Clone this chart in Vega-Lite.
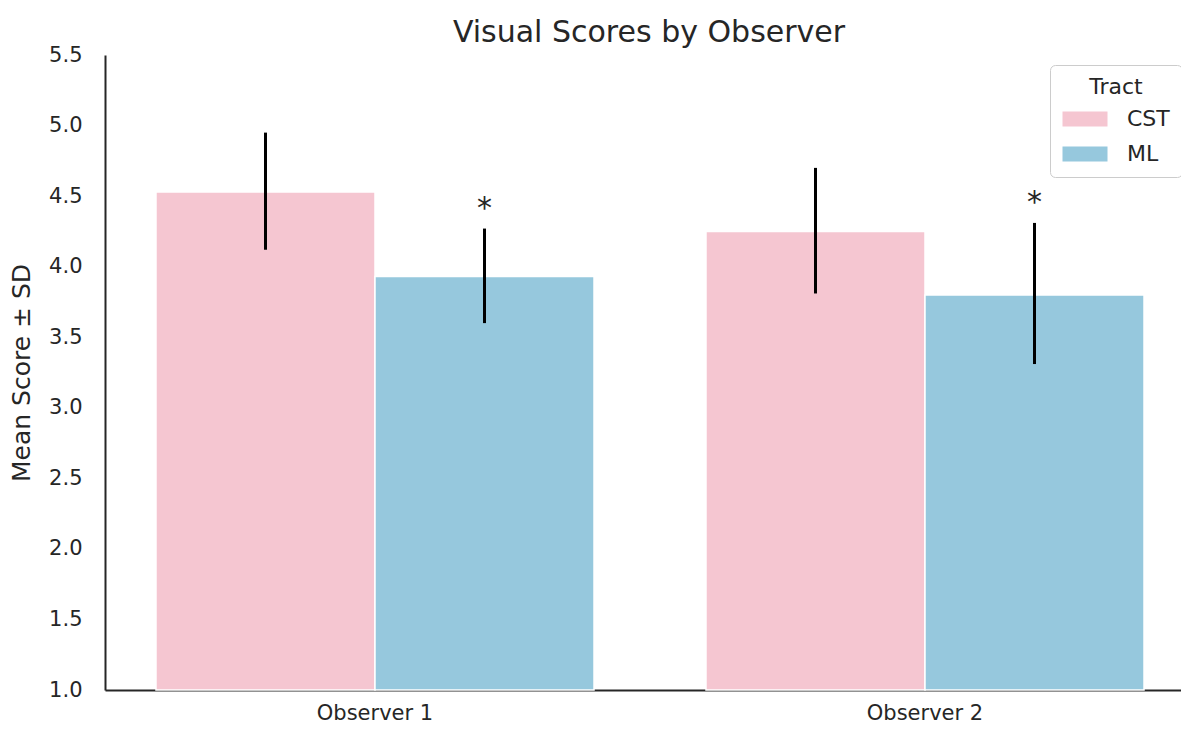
{
  "$schema": "https://vega.github.io/schema/vega-lite/v6.json",
  "width": 1076,
  "height": 635,
  "autosize": {"type": "none"},
  "padding": {"left": 105, "top": 55, "right": 0, "bottom": 40},
  "background": "white",
  "config": {
    "font": "DejaVu Sans",
    "view": {"stroke": null},
    "axis": {"labelColor": "#262626", "titleColor": "#262626", "domainColor": "#262626", "labelFont": "DejaVu Sans", "titleFont": "DejaVu Sans", "titleFontWeight": "normal"},
    "legend": {"labelFont": "DejaVu Sans", "titleFont": "DejaVu Sans", "titleFontWeight": "normal"}
  },
  "title": {"text": "Visual Scores by Observer", "fontSize": 30, "fontWeight": "normal", "color": "#262626", "baseline": "bottom", "offset": 8, "anchor": "middle", "dx": 6, "dy": 42},
  "data": {"values": [
    {"observer": "Observer 1", "tract": "CST", "mean": 4.53, "lower": 4.12, "upper": 4.95, "sig": ""},
    {"observer": "Observer 1", "tract": "ML", "mean": 3.93, "lower": 3.60, "upper": 4.27, "sig": "*"},
    {"observer": "Observer 2", "tract": "CST", "mean": 4.25, "lower": 3.81, "upper": 4.70, "sig": ""},
    {"observer": "Observer 2", "tract": "ML", "mean": 3.80, "lower": 3.31, "upper": 4.31, "sig": "*"}
  ]},
  "encoding": {
    "x": {"field": "observer", "type": "nominal", "title": null,
      "scale": {"range": [0, 1090], "paddingInner": 0.2036, "paddingOuter": 0.0927},
      "axis": {"labelAngle": 0, "labelFontSize": 21, "ticks": false, "labelPadding": 12, "domainWidth": 2, "domainColor": "#262626"}},
    "xOffset": {"field": "tract", "type": "nominal", "scale": {"paddingInner": 0, "paddingOuter": 0}}
  },
  "layer": [
    {
      "mark": {"type": "bar", "stroke": "white", "strokeWidth": 1.5},
      "encoding": {
        "y": {"field": "mean", "type": "quantitative", "title": "Mean Score ± SD",
          "scale": {"domain": [1, 5.5], "nice": false, "zero": false},
          "axis": {"values": [1, 1.5, 2, 2.5, 3, 3.5, 4, 4.5, 5, 5.5], "format": ".1f", "grid": false, "ticks": false, "labelFontSize": 21, "labelPadding": 23, "titleFontSize": 25, "titlePadding": 14, "domainWidth": 2}},
        "y2": {"datum": 1},
        "color": {"field": "tract", "type": "nominal", "title": "Tract",
          "scale": {"domain": ["CST", "ML"], "range": ["#F5C6D1", "#96C8DD"]},
          "legend": {"orient": "none", "legendX": 945, "legendY": 10, "strokeColor": "#cccccc", "cornerRadius": 5, "padding": 12, "fillColor": "white",
            "titleFontSize": 22, "titleColor": "#262626", "titleAnchor": "middle", "titlePadding": 9,
            "labelFontSize": 22, "labelColor": "#262626", "symbolType": "M-3,-1H3V1H-3Z", "symbolSize": 225, "symbolStrokeWidth": 0, "symbolOffset": 12, "labelOffset": 31, "rowPadding": 13}}
      }
    },
    {
      "mark": {"type": "rule", "color": "black", "strokeWidth": 3},
      "encoding": {
        "y": {"field": "lower", "type": "quantitative"},
        "y2": {"field": "upper"}
      }
    },
    {
      "mark": {"type": "text", "fontSize": 30, "baseline": "alphabetic", "dy": -11, "color": "#262626"},
      "encoding": {
        "y": {"field": "upper", "type": "quantitative"},
        "text": {"field": "sig"}
      }
    }
  ]
}
